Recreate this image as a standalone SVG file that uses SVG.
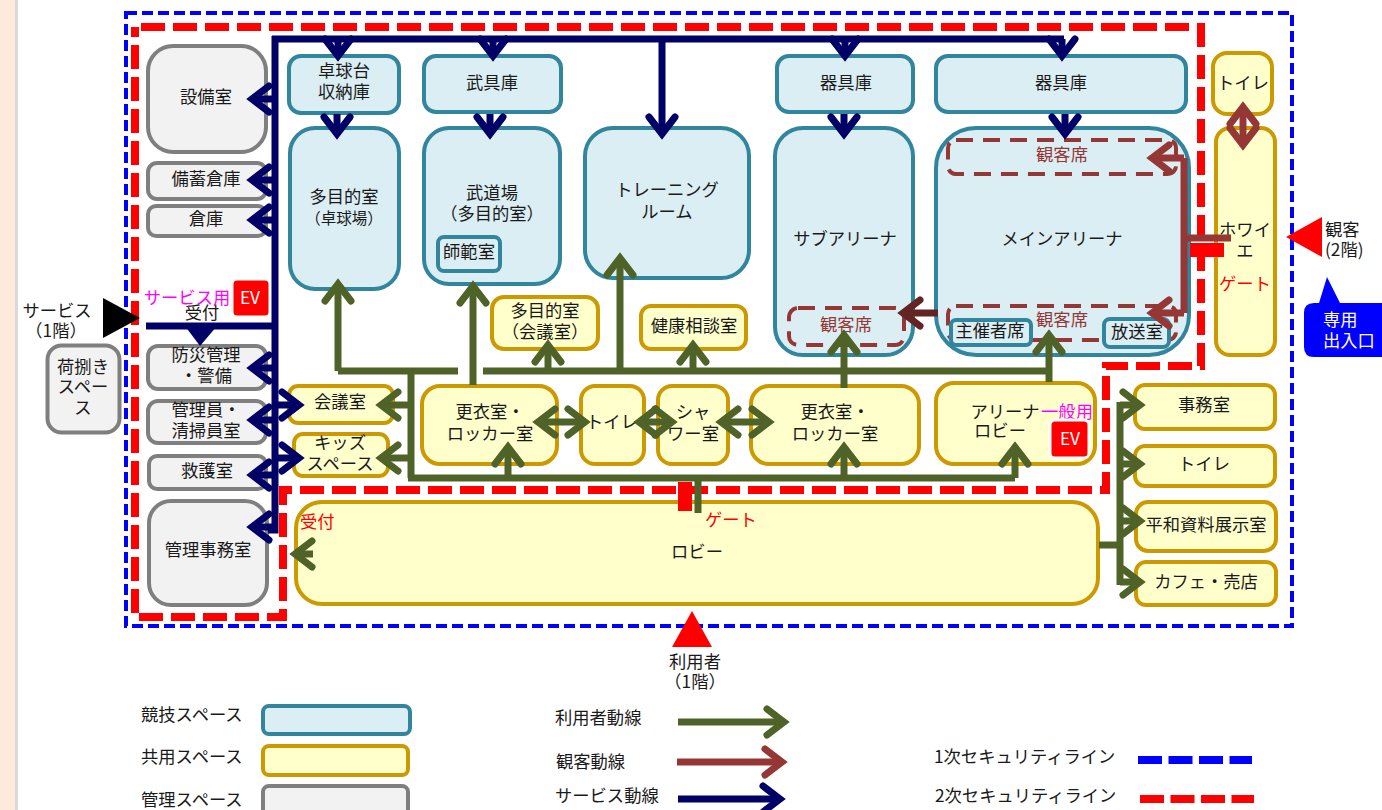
<svg xmlns="http://www.w3.org/2000/svg" width="1382" height="810" viewBox="0 0 1382 810">
<style>
text{font-family:"Noto Sans CJK JP","Noto Sans",sans-serif;font-size:17.3px;fill:#1a1a1a;text-anchor:middle}
.l{text-anchor:start}
.s{font-size:15.5px}
.r{fill:#f00}.m{fill:#f0f}.b{fill:#953735}.w{fill:#fff}
rect{stroke-width:4}
.c{fill:#dbeef4;stroke:#31859c}
.y{fill:#ffffcc;stroke:#cc9900}
.g{fill:#f2f2f2;stroke:#7f7f7f}
.e{fill:#f00;stroke:#fff;stroke-width:3}
.d{fill:none;stroke:#953735;stroke-width:4;stroke-dasharray:17 10}
.sec1{fill:none;stroke:#00f;stroke-width:4;stroke-dasharray:11 5}
.sec2{fill:none;stroke:#f00;stroke-width:8;stroke-dasharray:24 8}
.nv,.gr,.mr,.dk{fill:none;stroke-width:7}
.nv{stroke:#000066}.gr{stroke:#4f6228}.mr{stroke:#953735}.dk{stroke:#632523}
.an{marker-end:url(#hn)}.ag{marker-end:url(#hg)}.am{marker-end:url(#hm)}.ad{marker-end:url(#hd)}
.ag2{marker-start:url(#hg);marker-end:url(#hg)}.am2{marker-start:url(#hm);marker-end:url(#hm)}
</style>
<defs>
<marker id="hn" markerUnits="userSpaceOnUse" markerWidth="50" markerHeight="50" refX="25" refY="25" orient="auto-start-reverse"><path d="M8,12 L25,25 L8,38" fill="none" stroke="#000066" stroke-width="7" stroke-linecap="round"/></marker>
<marker id="hg" markerUnits="userSpaceOnUse" markerWidth="50" markerHeight="50" refX="25" refY="25" orient="auto-start-reverse"><path d="M8,12 L25,25 L8,38" fill="none" stroke="#4f6228" stroke-width="7" stroke-linecap="round"/></marker>
<marker id="hm" markerUnits="userSpaceOnUse" markerWidth="50" markerHeight="50" refX="25" refY="25" orient="auto-start-reverse"><path d="M8,12 L25,25 L8,38" fill="none" stroke="#953735" stroke-width="7" stroke-linecap="round"/></marker>
<marker id="hd" markerUnits="userSpaceOnUse" markerWidth="50" markerHeight="50" refX="25" refY="25" orient="auto-start-reverse"><path d="M8,12 L25,25 L8,38" fill="none" stroke="#632523" stroke-width="7" stroke-linecap="round"/></marker>
</defs>
<rect x="0" y="0" width="15" height="810" fill="#fdeada" stroke="none"/>
<rect x="15" y="0" width="3" height="810" fill="#d9d9d9" stroke="none"/>
<g id="security">
<rect class="sec1" x="126" y="13" width="1166" height="613"/>
<path class="sec2" d="M141,27H1201V366H1106V490H283V617H135V27"/>
</g>
<g id="n-setsubi"><rect class="g" x="148" y="46" width="118" height="106" rx="25"/><text x="206" y="103">設備室</text></g>
<g id="n-bichiku"><rect class="g" x="148" y="163" width="118" height="36" rx="9"/><text x="206" y="185">備蓄倉庫</text></g>
<g id="n-souko"><rect class="g" x="148" y="206" width="118" height="30" rx="8"/><text x="206" y="225">倉庫</text></g>
<g id="n-bousai"><rect class="g" x="148" y="346" width="118" height="43" rx="10"/><text x="206" y="361">防災管理</text><text x="206" y="382">・警備</text></g>
<g id="n-kanriin"><rect class="g" x="148" y="401" width="118" height="42" rx="10"/><text x="206" y="416">管理員・</text><text x="206" y="437">清掃員室</text></g>
<g id="n-kyugo"><rect class="g" x="149" y="456" width="117" height="33" rx="8"/><text x="207" y="477">救護室</text></g>
<g id="n-kanri"><rect class="g" x="149" y="501" width="118" height="104" rx="22"/><text x="208" y="556">管理事務室</text></g>
<g id="n-nisabaki"><rect class="g" x="47.500" y="345.500" width="72" height="87" rx="14"/><text x="83" y="373">荷捌き</text><text x="83" y="393">スペー</text><text x="83" y="414">ス</text></g>
<g id="n-takkyu-s"><rect class="c" x="289" y="56" width="110" height="57" rx="12"/><text x="344" y="77">卓球台</text><text x="344" y="98">収納庫</text></g>
<g id="n-takkyu"><rect class="c" x="290" y="128" width="109" height="161" rx="25"/><text x="344" y="203">多目的室</text><text class="s" x="344" y="224">（卓球場）</text></g>
<g id="n-bugu"><rect class="c" x="424" y="56" width="137" height="56" rx="12"/><text x="492" y="89">武具庫</text></g>
<g id="n-budo"><rect class="c" x="424" y="128" width="136" height="156" rx="25"/><text x="492" y="199">武道場</text><text x="492" y="220">（多目的室）</text></g>
<g id="n-shihan"><rect class="c" x="438" y="237" width="62" height="34" rx="6"/><text x="469" y="258">師範室</text></g>
<g id="n-training"><rect class="c" x="585" y="128" width="164" height="150" rx="28"/><text x="667" y="196">トレーニング</text><text x="667" y="218">ルーム</text></g>
<g id="n-kigu1"><rect class="c" x="777" y="56" width="136" height="56" rx="12"/><text x="846" y="89">器具庫</text></g>
<g id="n-sub"><rect class="c" x="775" y="128" width="138" height="227" rx="28"/><text x="845" y="245">サブアリーナ</text><rect class="d" x="789" y="308" width="115" height="37" rx="9"/><text class="b" x="846" y="331">観客席</text></g>
<g id="n-kigu2"><rect class="c" x="936" y="56" width="250" height="56" rx="12"/><text x="1061" y="89">器具庫</text></g>
<g id="n-main"><rect class="c" x="936" y="128" width="253" height="227" rx="40"/><text x="1062" y="245">メインアリーナ</text>
<rect class="d" x="948" y="140" width="228" height="34" rx="8"/><text class="b" x="1062" y="161">観客席</text>
<rect class="d" x="948" y="306" width="228" height="34" rx="8"/><text class="b" x="1062" y="326">観客席</text></g>
<g id="n-shusai"><rect class="c" x="951" y="320" width="80" height="25" rx="5"/><text x="990" y="337">主催者席</text></g>
<g id="n-hoso"><rect class="c" x="1104" y="319" width="65" height="28" rx="6"/><text x="1137" y="338">放送室</text></g>
<g id="n-toilet-u"><rect class="y" x="1213" y="53" width="59" height="61" rx="14"/><text x="1243" y="89">トイレ</text></g>
<g id="n-foyer"><rect class="y" x="1216" y="128" width="59" height="227" rx="14"/><text x="1245" y="236">ホワイ</text><text x="1245" y="257">エ</text><text class="r" x="1245" y="290">ゲート</text></g>
<g id="n-jimu"><rect class="y" x="1135" y="385" width="140" height="44" rx="10"/><text x="1204" y="411">事務室</text></g>
<g id="n-toilet-r"><rect class="y" x="1135" y="446" width="140" height="40" rx="10"/><text x="1204" y="470">トイレ</text></g>
<g id="n-heiwa"><rect class="y" x="1136" y="502" width="140" height="49" rx="12"/><text x="1206" y="531">平和資料展示室</text></g>
<g id="n-cafe"><rect class="y" x="1136" y="562" width="140" height="43" rx="10"/><text x="1206" y="588">カフェ・売店</text></g>
<g id="n-lobby"><rect class="y" x="296" y="502" width="802" height="102" rx="26"/><text x="697" y="558">ロビー</text><text class="r l" x="300" y="528">受付</text><text class="r l" x="705" y="526">ゲート</text></g>
<g id="n-tamoku2"><rect class="y" x="492" y="297" width="106" height="52" rx="12"/><text x="545" y="317">多目的室</text><text x="545" y="338">（会議室）</text></g>
<g id="n-kenko"><rect class="y" x="641" y="306" width="105" height="43" rx="10"/><text x="694" y="332">健康相談室</text></g>
<g id="n-kaigi"><rect class="y" x="289" y="386" width="104" height="37" rx="9"/><text x="340" y="408">会議室</text></g>
<g id="n-kids"><rect class="y" x="294" y="434" width="94" height="42" rx="9"/><text x="340" y="449">キッズ</text><text x="340" y="470">スペース</text></g>
<g id="n-locker1"><rect class="y" x="422" y="386" width="135" height="78" rx="18"/><text x="490" y="418">更衣室・</text><text x="490" y="440">ロッカー室</text></g>
<g id="n-toilet-m"><rect class="y" x="581" y="386" width="63" height="78" rx="14"/><text x="612" y="428">トイレ</text></g>
<g id="n-shower"><rect class="y" x="658" y="386" width="70" height="78" rx="14"/><text x="693" y="418">シャ</text><text x="693" y="440">ワー室</text></g>
<g id="n-locker2"><rect class="y" x="751" y="386" width="168" height="78" rx="18"/><text x="835" y="418">更衣室・</text><text x="835" y="440">ロッカー室</text></g>
<g id="n-alobby"><rect class="y" x="936" y="383" width="159" height="81" rx="18"/><text x="1005" y="418">アリーナ</text><text x="1000" y="437">ロビー</text><text class="m" x="1067" y="418">一般用</text></g>
<g id="n-ev2"><rect class="e" x="1050" y="420" width="39" height="38" rx="5"/><text class="w" x="1070" y="445">EV</text></g>
<g id="n-ev1"><rect class="e" x="232" y="279" width="38" height="38" rx="5"/><text class="w" x="250" y="304">EV</text></g>
<g id="labels-service"><text class="m" x="187" y="304">サービス用</text><text x="202" y="319">受付</text></g>
<g id="connectors">
<path class="nv" d="M146,326H275M275,36V530H268M272,39H1064"/>
<path class="nv an" d="M338,39V56"/><path class="nv an" d="M493,39V56"/><path class="nv an" d="M845,39V56"/><path class="nv an" d="M1062,39V56"/>
<path class="nv an" d="M337,114V134"/><path class="nv an" d="M490,114V134"/><path class="nv an" d="M844,114V134"/><path class="nv an" d="M1065,114V134"/>
<path class="nv an" d="M662,39V134"/>
<path class="nv an" d="M275,99H252"/><path class="nv an" d="M275,180H252"/><path class="nv an" d="M275,220H252"/><path class="nv an" d="M275,368H252"/><path class="nv an" d="M275,420H252"/><path class="nv an" d="M275,475H252"/><path class="nv an" d="M275,527H252"/>
<path class="nv an" d="M275,405H299"/><path class="nv an" d="M275,458H299"/>
<path fill="#000066" d="M185,326H217L200,346Z"/>
<path class="gr" d="M338,371H458M483,371H1048M411,371V478M408,478H1015M698,478V513M1099,545H1120M1120,402V585"/>
<path class="gr ag" d="M338,371V284"/><path class="gr ag" d="M473,385V286"/><path class="gr ag" d="M620,371V258"/>
<path class="gr ag" d="M548,371V345"/><path class="gr ag" d="M693,371V345"/><path class="gr ag" d="M844,388V335"/><path class="gr ag" d="M1049,382V335"/>
<path class="gr ag" d="M411,405H381"/><path class="gr ag" d="M411,458H381"/>
<path class="gr ag" d="M508,478V447"/><path class="gr ag" d="M844,478V447"/><path class="gr ag" d="M1015,478V447"/>
<path class="gr ag2" d="M538,422H585"/><path class="gr ag2" d="M639,422H672"/><path class="gr ag2" d="M721,422H769"/>
<path class="gr ag" d="M313,554H295"/>
<path class="gr ag" d="M1120,405H1140"/><path class="gr ag" d="M1120,464H1140"/><path class="gr ag" d="M1120,521H1140"/><path class="gr ag" d="M1120,582H1140"/>
<path class="mr" d="M1231,238H1184M1184,158V313"/>
<path class="mr am" d="M1184,158H1152"/><path class="mr am" d="M1184,313H1152"/>
<path class="mr am2" d="M1243,107V145"/>
<path class="dk ad" d="M938,313H903"/>
</g>
<g id="gates">
<rect x="678" y="482" width="14" height="29" fill="#f00" stroke="none"/>
<rect x="1190" y="243" width="34" height="14" fill="#f00" stroke="none"/>
</g>
<g id="entrances">
<path d="M103,298V338L140,318Z" fill="#000"/>
<text x="57" y="317">サービス</text><text x="56" y="337">（1階）</text>
<path d="M692,611L712,647H672Z" fill="#f00"/>
<text x="695" y="668">利用者</text><text x="695" y="688">（1階）</text>
<path d="M1286,237L1322,217V257Z" fill="#f00"/>
<text class="l" x="1325" y="236">観客</text><text class="l" x="1325" y="256">(2階)</text>
<path d="M1327,277L1340,303H1382V357H1314Q1304,357 1304,347V313Q1304,303 1314,303H1319Z" fill="#00f"/>
<text class="w l" x="1323" y="326">専用</text><text class="w l" x="1323" y="347">出入口</text>
</g>
<g id="legend">
<text class="l" x="141" y="721">競技スペース</text><rect class="c" x="263" y="706" width="147" height="28" rx="6"/>
<text class="l" x="141" y="763">共用スペース</text><rect class="g" x="263" y="786" width="145" height="40" rx="6"/><rect class="y" x="263" y="746" width="145" height="29" rx="6"/>
<text class="l" x="141" y="806">管理スペース</text>
<text class="l" x="555" y="724">利用者動線</text><path class="gr ag" d="M678,722H784"/>
<text class="l" x="556" y="768">観客動線</text><path class="mr am" d="M677,762H782"/>
<text class="l" x="555" y="802">サービス動線</text><path class="nv an" d="M678,799H780"/>
<text class="l" x="934" y="763">1次セキュリティライン</text><path d="M1138,760H1252" stroke="#00f" stroke-width="8" stroke-dasharray="24 6.5" fill="none"/>
<text class="l" x="935" y="802">2次セキュリティライン</text><path d="M1140,799H1254" stroke="#f00" stroke-width="8" stroke-dasharray="24 6.5" fill="none"/>
</g>
</svg>
